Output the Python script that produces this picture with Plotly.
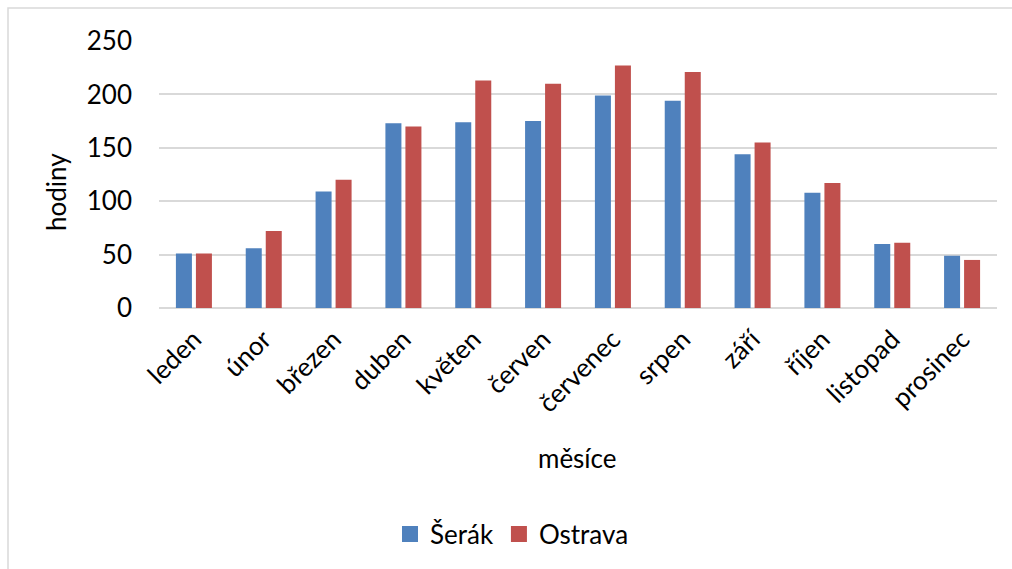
import plotly.graph_objects as go

months = ["leden", "únor", "březen", "duben", "květen", "červen",
          "červenec", "srpen", "září", "říjen", "listopad", "prosinec"]
serak = [51, 56, 109, 173, 174, 175, 199, 194, 144, 108, 60, 49]
ostrava = [51, 72, 120, 170, 213, 210, 227, 221, 155, 117, 61, 45]
y_ticks = [0, 50, 100, 150, 200, 250]

FONT = "Lato"
FS = 26
W, H = 1012, 569
L, R, T, B = 159, 15, 41, 261
pw, ph = W - L - R, H - T - B
BLUE, RED = "#4F81BD", "#C0504D"

def px_x(x):
    return (x - L) / pw

def px_y(y):
    return (H - B - y) / ph

fig = go.Figure()
fig.add_trace(go.Bar(x=months, y=serak, name="Šerák", showlegend=False,
                     marker=dict(color=BLUE, line=dict(width=0))))
fig.add_trace(go.Bar(x=months, y=ostrava, name="Ostrava", showlegend=False,
                     marker=dict(color=RED, line=dict(width=0))))
# legend entries with larger square swatches
for name, col in (("Šerák", BLUE), ("Ostrava", RED)):
    fig.add_trace(go.Scatter(x=[None], y=[None], mode="markers", name=name,
                             marker=dict(symbol="square", size=16, color=col),
                             showlegend=True))

fig.update_layout(
    width=W, height=H,
    margin=dict(l=L, r=R, t=T, b=B),
    paper_bgcolor="white", plot_bgcolor="white",
    font=dict(family=FONT, size=FS, color="black"),
    barmode="group", bargap=0.427, bargroupgap=0.2,
    showlegend=True,
    legend=dict(orientation="h", x=px_x(390), xanchor="left",
                y=px_y(534), yanchor="middle",
                font=dict(size=FS, family=FONT),
                itemwidth=30, tracegroupgap=0),
    xaxis=dict(tickangle=-45, showgrid=False, showline=False, ticks="",
               ticklabelstandoff=10, tickfont=dict(size=FS, family=FONT)),
    yaxis=dict(range=[0, 250], tickvals=y_ticks, showgrid=True,
               gridcolor="#d9d9d9", gridwidth=1.5, zeroline=True,
               zerolinecolor="#d9d9d9", zerolinewidth=1.5, showline=False,
               ticks="", ticklabelstandoff=26,
               tickfont=dict(size=FS, family=FONT)),
    annotations=[
        dict(text="hodiny", xref="paper", yref="paper", x=px_x(56), y=px_y(192),
             showarrow=False, textangle=-90, xanchor="center", yanchor="middle",
             font=dict(size=FS, family=FONT)),
        dict(text="měsíce", xref="paper", yref="paper", x=px_x(577), y=px_y(458),
             showarrow=False, xanchor="center", yanchor="middle",
             font=dict(size=FS, family=FONT)),
    ],
    shapes=[
        dict(type="rect", xref="paper", yref="paper",
             x0=px_x(8), x1=px_x(1040), y0=px_y(600), y1=px_y(8),
             line=dict(color="#d9d9d9", width=1.5), fillcolor="rgba(0,0,0,0)",
             layer="below"),
    ],
)

fig.write_html("out.html")
